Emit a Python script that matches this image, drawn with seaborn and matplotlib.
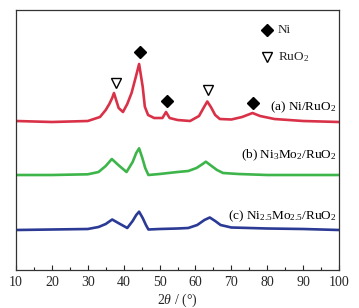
import matplotlib
matplotlib.use("Agg")
import matplotlib.pyplot as plt
import seaborn as sns
import pandas as pd

# ---- data ----
x_a = [10, 20, 30, 33.4, 35.0, 36.0, 36.8, 37.3, 37.9, 38.6, 39.8, 41, 42.2, 43.4, 44.3, 45.3, 45.9, 46.8, 48.5,
       50.8, 51.8, 52.8, 55, 58.5, 61, 62.4, 63.3, 64.3, 65.5, 66.8, 70, 73, 75.9, 78, 82, 90, 100]
y_a = [179, 178, 179, 183, 190, 196, 202, 207, 200, 192, 188, 196, 207, 223.3, 236, 213.3, 193.3, 185, 182,
       182, 188, 182, 180, 179, 184, 193, 198.5, 193, 185, 181, 180.5, 183, 187, 184, 181, 179, 178]

x_b = [10, 20, 30, 33, 35, 36.7, 38.5, 40.8, 42.5, 43.5, 44.3, 45.2, 46, 46.9, 50, 55, 58, 60.3,
       62, 62.9, 64.5, 66, 67.7, 72, 80, 90, 100]
y_b = [125, 125, 125.7, 128, 134, 141, 135, 128, 138, 147, 151.7, 142, 132, 125, 126, 128, 129, 132,
       136, 138.3, 134, 130, 127, 126, 125, 125, 125]

x_c = [10, 20, 30, 33, 35, 36.8, 38.5, 41, 42.5, 43.5, 44.3, 45.3, 46.2, 46.9, 50, 55, 58, 60.5,
       62.5, 64, 65.5, 67, 70, 80, 90, 100]
y_c = [70, 70.5, 71, 73, 76, 80.5, 77, 72, 79, 85, 88.3, 82, 75, 70.5, 71, 71.5, 72, 75,
       80, 82.5, 79, 75, 72.5, 71.5, 71, 70]

series_labels = [r"(a) Ni/RuO$_2$", r"(b) Ni$_3$Mo$_2$/RuO$_2$", r"(c) Ni$_{2.5}$Mo$_{2.5}$/RuO$_2$"]
series_colors = ["#d93248", "#3db54a", "#2b3a95"]
label_y = [193, 145, 84]

ni_x = [44.5, 52.0, 76.1]
ni_y = [248, 199, 197.3]
ruo2_x = [37.8, 63.4]
ruo2_y = [216.7, 210]

xticks = [10, 20, 30, 40, 50, 60, 70, 80, 90, 100]

# ---- plot ----
sns.set_style("ticks")
plt.rcParams["font.family"] = ["Liberation Serif", "DejaVu Serif"]
plt.rcParams["mathtext.fontset"] = "custom"
plt.rcParams["mathtext.rm"] = "Liberation Serif"
plt.rcParams["mathtext.it"] = "Liberation Serif:italic"

fig = plt.figure(figsize=(3.59, 3.08), dpi=100)
ax = fig.add_axes([16/359, 38/308, 323/359, 260/308])

frames = []
for xs, ys, lab in zip([x_a, x_b, x_c], [y_a, y_b, y_c], series_labels):
    frames.append(pd.DataFrame({"x": xs, "y": ys, "s": lab}))
df = pd.concat(frames, ignore_index=True)
sns.lineplot(data=df, x="x", y="y", hue="s", palette=dict(zip(series_labels, series_colors)),
             linewidth=1.9, ax=ax, legend=False, sort=False, estimator=None)

for lab, ly in zip(series_labels, label_y):
    ax.text(99.3, ly, lab, ha="right", va="center", fontsize=9.5, color="black")

ax.plot(ni_x, ni_y, linestyle="none", marker="D", markersize=6.2, color="black")
ax.plot(ruo2_x, ruo2_y, linestyle="none", marker="v", markersize=7.5,
        markerfacecolor="white", markeredgecolor="black", markeredgewidth=1.0)

# legend entries drawn as in the reference
ax.plot([80.0], [270], linestyle="none", marker="D", markersize=6.2, color="black")
ax.plot([80.0], [243.3], linestyle="none", marker="v", markersize=7.5,
        markerfacecolor="white", markeredgecolor="black", markeredgewidth=1.0)
ax.text(82.9, 270, "Ni", ha="left", va="center", fontsize=9.5)
ax.text(82.9, 243.3, r"RuO$_2$", ha="left", va="center", fontsize=9.5)

ax.set_xlim(10, 100)
ax.set_ylim(30, 290)
ax.set_xticks(xticks)
ax.set_xticks(list(range(15, 100, 10)), minor=True)
ax.set_yticks([])
ax.tick_params(axis="x", which="major", direction="in", length=3.5, width=0.8, labelsize=10, pad=4)
ax.tick_params(axis="x", which="minor", direction="in", length=2.5, width=0.8)
for sp in ax.spines.values():
    sp.set_visible(True)
    sp.set_linewidth(0.9)
    sp.set_color("#333333")
ax.set_xlabel(r"2$\it{\theta}$ / (°)", fontsize=10, labelpad=2)
ax.set_ylabel("")

fig.savefig("out.png", dpi=100)
